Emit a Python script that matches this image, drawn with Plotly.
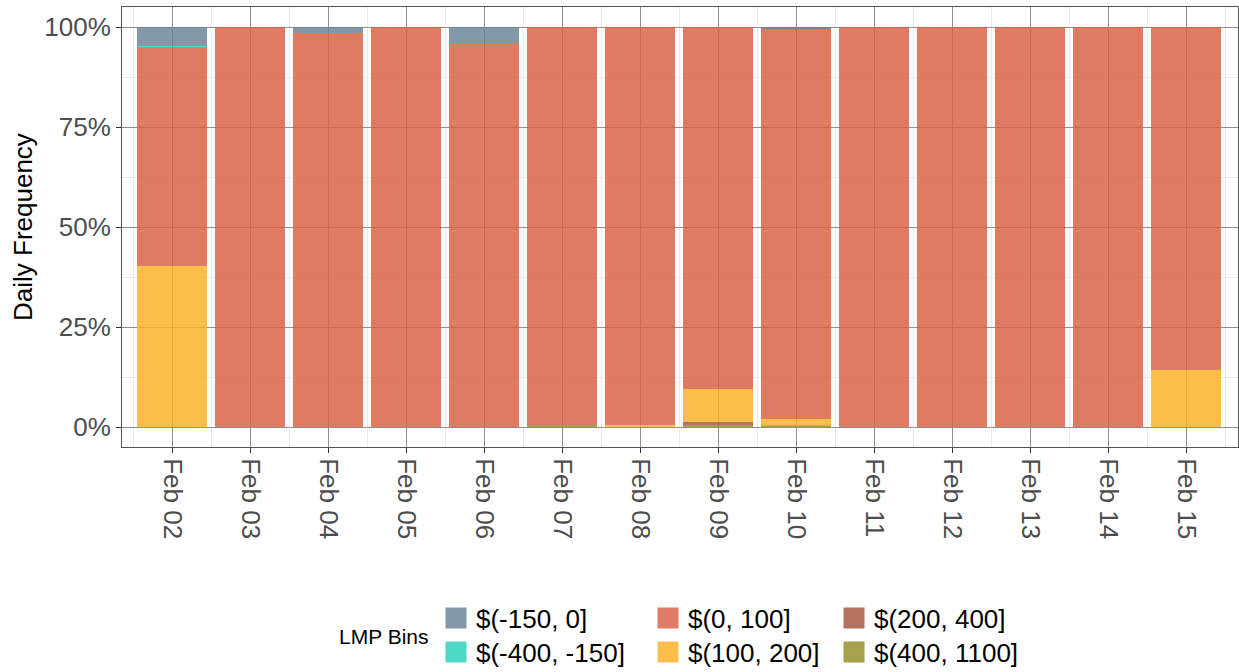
import plotly.graph_objects as go

# ---- data (percent of day in each LMP bin) ----
dates = ["2021-02-02", "2021-02-03", "2021-02-04", "2021-02-05", "2021-02-06",
         "2021-02-07", "2021-02-08", "2021-02-09", "2021-02-10", "2021-02-11",
         "2021-02-12", "2021-02-13", "2021-02-14", "2021-02-15"]

bin_400_1100 = [0, 0, 0, 0, 0, 0.4, 0, 0.6, 0.35, 0, 0, 0, 0, 0]
bin_200_400 = [0, 0, 0, 0, 0, 0, 0, 0.7, 0, 0, 0, 0, 0, 0]
bin_100_200 = [40.2, 0, 0, 0, 0, 0, 0.6, 8.1, 1.7, 0, 0, 0, 0, 14.2]
bin_0_100 = [54.75, 100, 98.5, 100, 96.1, 99.6, 99.4, 90.6, 97.65, 100, 100, 100, 100, 85.8]
bin_m400_m150 = [0.35, 0, 0, 0, 0, 0, 0, 0, 0, 0, 0, 0, 0, 0]
bin_m150_0 = [4.7, 0, 1.5, 0, 3.9, 0, 0, 0, 0.3, 0, 0, 0, 0, 0]

bin_labels = ["$(400, 1100]", "$(200, 400]", "$(100, 200]", "$(0, 100]",
              "$(-400, -150]", "$(-150, 0]"]
bin_values = [bin_400_1100, bin_200_400, bin_100_200, bin_0_100, bin_m400_m150, bin_m150_0]
# base colours (drawn with alpha) and their look on white (for legend keys)
bin_colors = ["rgb(148,139,37)", "rgb(166,83,60)", "rgb(253,176,36)",
              "rgb(217,94,66)", "rgb(39,207,185)", "rgb(103,131,151)"]
key_colors = ["rgb(167,160,76)", "rgb(182,114,95)", "rgb(253,190,75)",
              "rgb(224,123,100)", "rgb(78,216,198)", "rgb(130,153,170)"]
legend_ids = ["legend6", "legend5", "legend4", "legend3", "legend2", "legend"]

y_ticks = [0, 0.25, 0.5, 0.75, 1.0]

fig = go.Figure()
DAY_MS = 86400000

for lab, vals, col in zip(bin_labels, bin_values, bin_colors):
    fig.add_trace(go.Bar(
        x=dates, y=[v / 100 for v in vals], name=lab,
        marker=dict(color=col, line=dict(width=0)),
        opacity=0.82, width=0.9 * DAY_MS, showlegend=False,
    ))

# legend-only entries (one legend per entry, arranged as 3 columns x 2 rows)
for lab, col, lid in zip(bin_labels, key_colors, legend_ids):
    fig.add_trace(go.Scatter(
        x=[None], y=[None], mode="markers", name=lab, legend=lid,
        marker=dict(symbol="square", size=16, color=col,
                    line=dict(color=col, width=5)),
        showlegend=True,
    ))

FONT = "Liberation Sans, Arial, sans-serif"
W, H = 1239, 672
L, R, T, B = 122, 1, 7, 225
PW, PH = W - L - R, H - T - B


def leg(px_left, py_center):
    return dict(x=px_left / W, y=(H - py_center) / H,
                xref="container", yref="container",
                xanchor="left", yanchor="middle", orientation="v",
                bgcolor="rgba(0,0,0,0)", font=dict(family=FONT, size=26, color="#000"),
                itemsizing="trace")


row1, row2 = 618, 652
c1, c2, c3 = 436, 648, 834

fig.update_layout(
    width=W, height=H,
    margin=dict(l=L, r=R, t=T, b=B, autoexpand=False),
    paper_bgcolor="white", plot_bgcolor="white",
    barmode="stack", bargap=0,
    font=dict(family=FONT, color="#4D4D4D"),
    legend=leg(c1, row1), legend2=leg(c1, row2),
    legend3=leg(c2, row1), legend4=leg(c2, row2),
    legend5=leg(c3, row1), legend6=leg(c3, row2),
    annotations=[
        dict(text="LMP Bins", x=(384 - L) / PW, y=(T + PH - 636) / PH,
             xref="paper", yref="paper", showarrow=False,
             xanchor="center", yanchor="middle",
             font=dict(family=FONT, size=21, color="#000")),
        dict(text="Daily Frequency", x=(23 - L) / PW, y=0.5,
             xref="paper", yref="paper", showarrow=False, textangle=-90,
             xanchor="center", yanchor="middle",
             font=dict(family=FONT, size=26, color="#000")),
    ],
)

fig.update_xaxes(
    type="date", automargin=False,
    range=["2021-02-01 08:37", "2021-02-15 16:00"],
    tickmode="linear", tick0="2021-02-02", dtick=DAY_MS,
    tickformat="%b %d", tickangle=90,
    tickfont=dict(family=FONT, size=26, color="#4D4D4D"),
    ticks="outside", ticklen=5, tickcolor="#333", tickwidth=1,
    showgrid=True, gridcolor="#8f8f8f", gridwidth=1,
    minor=dict(tick0="2021-02-01 12:00", dtick=DAY_MS, showgrid=True,
               gridcolor="#ebebeb", gridwidth=1),
    showline=True, linecolor="#555", linewidth=1, mirror=True,
    zeroline=False,
)
fig.update_yaxes(
    automargin=False,
    range=[-0.05, 1.05],
    tickvals=y_ticks, tickformat=".0%",
    tickfont=dict(family=FONT, size=26, color="#4D4D4D"),
    ticks="outside", ticklen=5, tickcolor="#333", tickwidth=1,
    showgrid=True, gridcolor="#8f8f8f", gridwidth=1,
    minor=dict(tickvals=[0.125, 0.375, 0.625, 0.875], showgrid=True,
               gridcolor="#ebebeb", gridwidth=1),
    showline=True, linecolor="#555", linewidth=1, mirror=True,
    zeroline=False,
)

fig.write_html(
    "out.html",
    config={"displayModeBar": False},
    post_script="document.body.style.margin='0';document.body.style.overflow='hidden';",
)
